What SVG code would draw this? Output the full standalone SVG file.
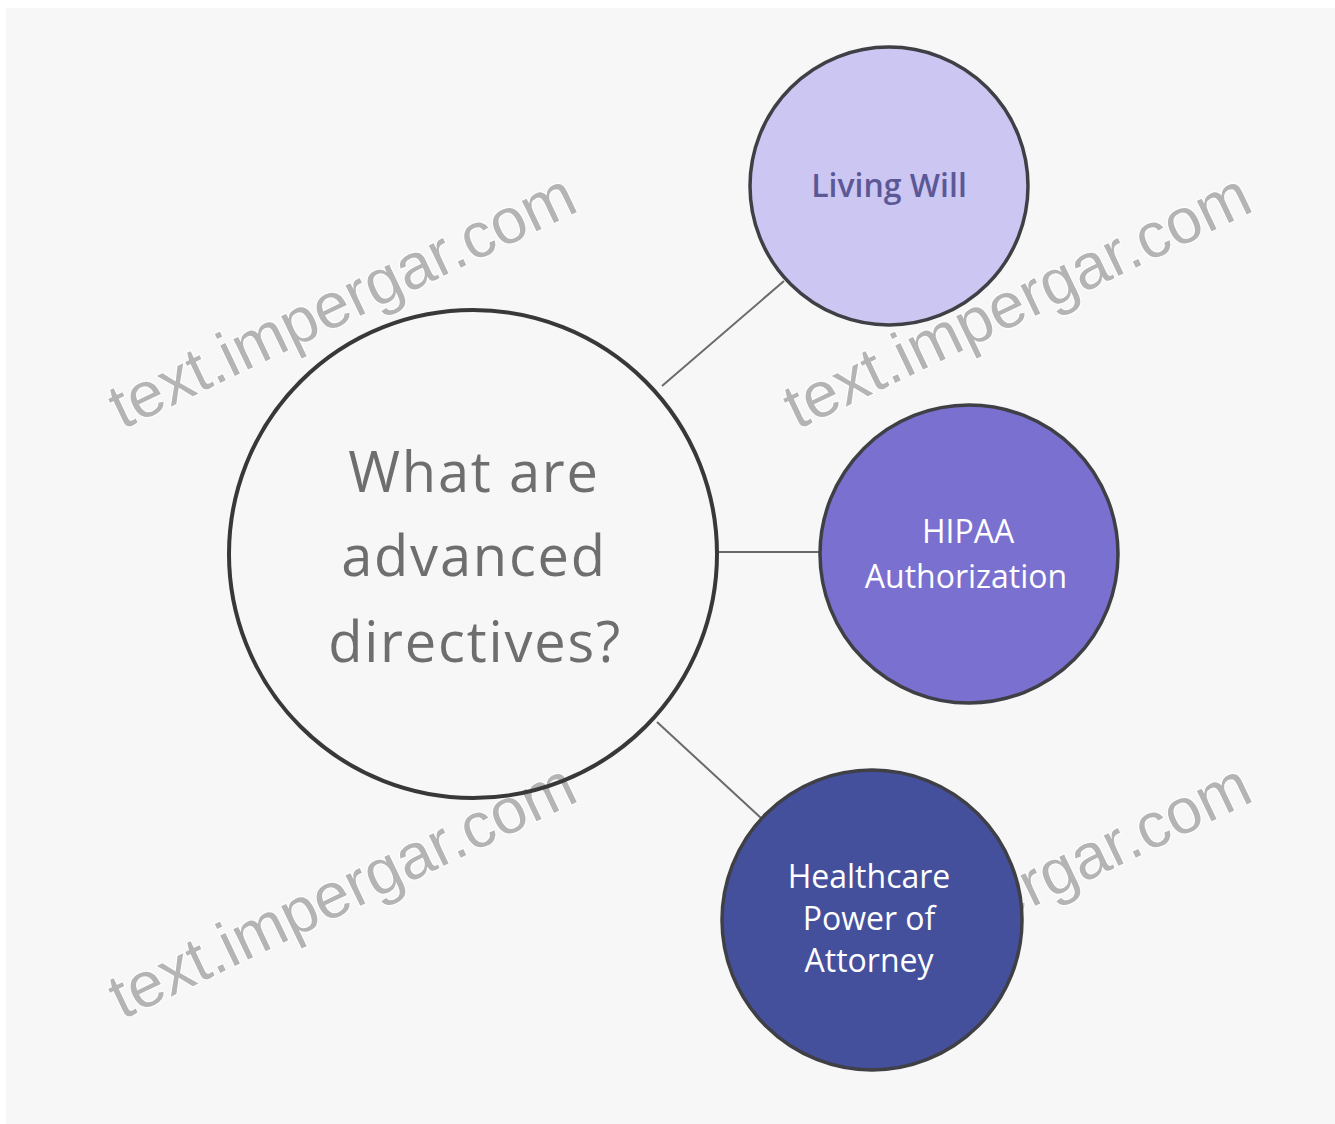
<svg xmlns="http://www.w3.org/2000/svg" width="1335" height="1124" viewBox="0 0 1335 1124">
  <style>
    .wm { font-family: "Liberation Sans", Arial, sans-serif; font-size: 64px; fill: #b4b4b4; stroke: #ffffff; stroke-width: 2; paint-order: stroke; }
    .conn { stroke: #6a6a6a; stroke-width: 2; fill: none; }
    .node { stroke: #3f3f46; stroke-width: 3.5; }
    .lbl { font-family: "Open Sans", "Noto Sans", sans-serif; text-anchor: middle; }
    .main { font-size: 56px; fill: #6e6e6e; letter-spacing: 1.8px; }
    .small { font-size: 32px; }
  </style>
  <rect x="0" y="0" width="1335" height="1124" fill="#ffffff"/>
  <rect x="6" y="8" width="1329" height="1116" fill="#f7f7f7"/>

  <g id="watermarks">
    <text class="wm" transform="translate(122,430) rotate(-25.6)">text.impergar.com</text>
    <text class="wm" transform="translate(797,430) rotate(-25.6)">text.impergar.com</text>
    <text class="wm" transform="translate(122,1020) rotate(-25.6)">text.impergar.com</text>
    <text class="wm" transform="translate(797,1020) rotate(-25.6)">text.impergar.com</text>
  </g>

  <g id="connectors">
    <line class="conn" x1="662" y1="386" x2="784" y2="281"/>
    <line class="conn" x1="718" y1="552" x2="821" y2="552"/>
    <line class="conn" x1="657" y1="722" x2="761" y2="818"/>
  </g>

  <g id="node-main">
    <circle cx="473" cy="554" r="244" fill="none" stroke="#383838" stroke-width="4"/>
    <text class="lbl main" x="474" y="492">What are</text>
    <text class="lbl main" x="474" y="576">advanced</text>
    <text class="lbl main" x="475" y="662">directives?</text>
  </g>

  <g id="node-living-will">
    <circle class="node" cx="889" cy="186" r="139" fill="#cbc6f2"/>
    <text class="lbl small" x="889" y="197" fill="#5c5896" font-size="33" font-weight="600">Living Will</text>
  </g>

  <g id="node-hipaa">
    <circle class="node" cx="969" cy="554" r="149" fill="#7a70cf"/>
    <text class="lbl small" x="968" y="543" fill="#ffffff">HIPAA</text>
    <text class="lbl small" x="966" y="588" fill="#ffffff">Authorization</text>
  </g>

  <g id="node-healthcare">
    <circle class="node" cx="872" cy="920" r="150" fill="#45509d"/>
    <text class="lbl small" x="869" y="888" fill="#ffffff">Healthcare</text>
    <text class="lbl small" x="869" y="930" fill="#ffffff">Power of</text>
    <text class="lbl small" x="869" y="972" fill="#ffffff">Attorney</text>
  </g>
</svg>
